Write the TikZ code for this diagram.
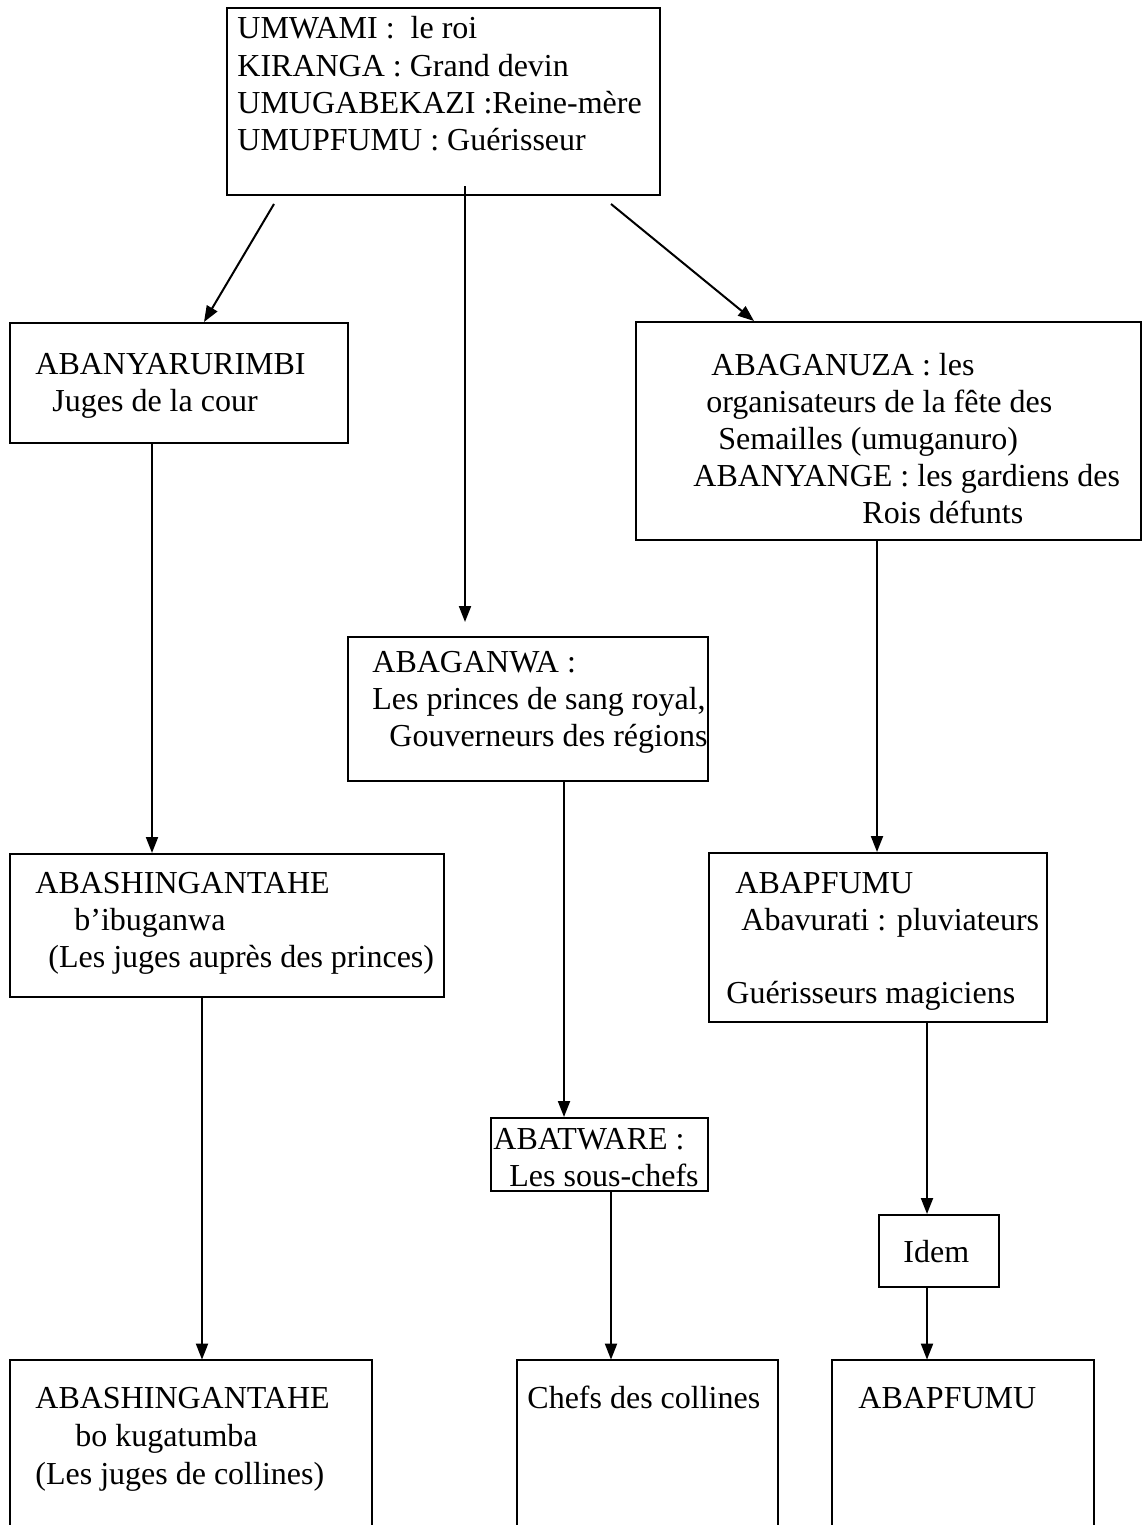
\documentclass[tikz,border=0pt]{standalone}
\usepackage{fontspec}
\setmainfont{Liberation Serif}
\usetikzlibrary{arrows.meta,fit,calc}
\tikzset{
  box/.style={draw, line width=1pt, inner sep=0pt},
  openbox/.style={inner sep=0pt},
  txt/.style={anchor=base west, inner sep=0pt, font=\fontsize{16}{18.5}\selectfont},
  arr/.style={line width=1pt, -{Triangle[length=8pt,width=6pt]}}
}
\begin{document}
\begin{tikzpicture}[x=0.5pt,y=-0.5pt]
\useasboundingbox (0,0) rectangle (1144,1525);
\fill[white] (0,0) rectangle (1144,1525);
% boxes
\node[box, fit={(227,8) (660,195)}] (top) {};
\node[box, fit={(10,323) (348,443)}] (anya) {};
\node[box, fit={(636,322) (1141,540)}] (ganu) {};
\node[box, fit={(348,637) (708,781)}] (gan) {};
\node[box, fit={(10,854) (444,997)}] (ash) {};
\node[box, fit={(709,853) (1047,1022)}] (pf) {};
\node[box, fit={(491,1118) (708,1191)}] (twa) {};
\node[box, fit={(879,1215) (999,1287)}] (idem) {};
\node[openbox, fit={(10,1360) (372,1525)}] (b1) {};
\node[openbox, fit={(517,1360) (778,1525)}] (b2) {};
\node[openbox, fit={(832,1360) (1094,1525)}] (b3) {};
\foreach \b in {b1,b2,b3}
  \draw[line width=1pt] (\b.south west) -- (\b.north west) -- (\b.north east) -- (\b.south east);
% texts
\node[txt] (t1) at (237,39) {UMWAMI :\ \ le roi};
\node[txt] (t2) at (237,76) {KIRANGA : Grand devin};
\node[txt] (t3) at (237,113) {UMUGABEKAZI :Reine-mère};
\node[txt] (t4) at (237,150) {UMUPFUMU : Guérisseur};
\node[txt] (t5) at (35,374) {ABANYARURIMBI};
\node[txt] (t6) at (52,411) {Juges de la cour};
\node[txt] (t7) at (711,375) {ABAGANUZA : les};
\node[txt] (t8) at (706,412) {organisateurs de la fête des};
\node[txt] (t9) at (718,449) {Semailles (umuganuro)};
\node[txt] (t10) at (693,486) {ABANYANGE : les gardiens des};
\node[txt] (t11) at (862,523) {Rois défunts};
\node[txt] (t12) at (372,672) {ABAGANWA :};
\node[txt] (t13) at (372,709) {Les princes de sang royal,};
\node[txt] (t14) at (389,746) {Gouverneurs des régions};
\node[txt] (t15) at (35,893) {ABASHINGANTAHE};
\node[txt] (t16) at (74,930) {b’ibuganwa};
\node[txt] (t17) at (48,967) {(Les juges auprès des princes)};
\node[txt] (t18) at (735,893) {ABAPFUMU};
\node[txt] (t19) at (741,930) {Abavurati : pluviateurs};
\node[txt] (t20) at (726,1003) {Guérisseurs magiciens};
\node[txt] (t21) at (493,1149) {ABATWARE :};
\node[txt] (t22) at (509,1186) {Les sous-chefs};
\node[txt] (t23) at (903,1262) {Idem};
\node[txt] (t24) at (35,1408) {ABASHINGANTAHE};
\node[txt] (t25) at (75,1446) {bo kugatumba};
\node[txt] (t26) at (35,1484) {(Les juges de collines)};
\node[txt] (t27) at (527,1408) {Chefs des collines};
\node[txt] (t28) at (858,1408) {ABAPFUMU};
% connectors
\draw[arr] ($(top.south west)+(48,8)$) -- ($(anya.north west)+(195,0)$);
\draw[arr] ($(top.south west)+(385,8)$) -- ($(ganu.north west)+(119,0)$);
\draw[arr] ($(top.south west)+(239,-10)$) coordinate (m1) -- ($(m1 |- gan.north)+(0,-14)$);
\draw[arr] ($(anya.south west)+(143,0)$) coordinate (c1) -- (c1 |- ash.north);
\draw[arr] ($(ash.south west)+(193,0)$) coordinate (c2) -- (c2 |- b1.north);
\draw[arr] ($(gan.south west)+(217,0)$) coordinate (c3) -- (c3 |- twa.north);
\draw[arr] ($(twa.south west)+(121,0)$) coordinate (c4) -- (c4 |- b2.north);
\draw[arr] ($(ganu.south west)+(242,0)$) coordinate (c5) -- (c5 |- pf.north);
\draw[arr] ($(pf.south west)+(219,0)$) coordinate (c6) -- (c6 |- idem.north);
\draw[arr] ($(idem.south west)+(49,0)$) coordinate (c7) -- (c7 |- b3.north);
\end{tikzpicture}
\end{document}
